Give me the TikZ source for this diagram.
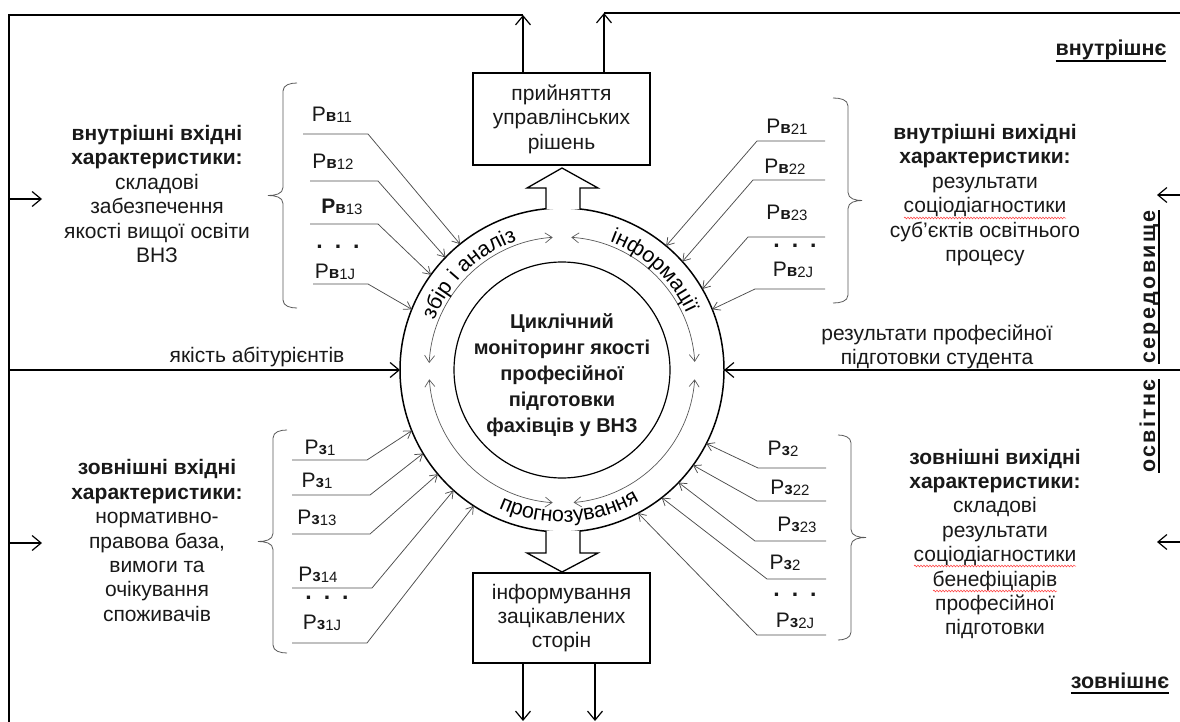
\documentclass[tikz,border=0pt]{standalone}
\usepackage{fontspec}
\setmainfont{Liberation Sans}
\usetikzlibrary{arrows.meta,decorations.text,decorations.pathmorphing,calc}
\newcommand\Plab[3]{{#1Р}{\fontsize{17}{17}\selectfont\bfseries #2}\raisebox{-1.5pt}{\fontsize{15}{15}\selectfont #3}}
\newcommand\Pdots{{\fontsize{23}{23}\selectfont\bfseries .\hspace{12pt}.\hspace{12pt}.}}
\newcommand\arcfont{\fontsize{21.5}{21.5}\selectfont}
\newcommand\bodyfont{\fontsize{21}{24.4}\selectfont}
\begin{document}
\begin{tikzpicture}[x=1pt,y=1pt,
  every node/.style={inner sep=0pt,outer sep=0pt},
  body/.style={font=\bodyfont,align=center,text=black!90},
  plab/.style={font=\fontsize{21}{21}\selectfont,text=black!90},
  vlab/.style={font=\fontsize{21.5}{21.5}\selectfont\bfseries,text=black!90},
  rlab/.style={font=\fontsize{21.5}{21.5}\selectfont\bfseries\addfontfeature{LetterSpace=11},text=black!90},
  frame/.style={line width=1.3pt},
  bigarrow/.style={frame,-{Straight Barb[length=9pt,width=15pt,line width=1.2pt]}},
  pline/.style={line width=0.75pt,black!70,-{Straight Barb[length=7pt,width=9pt,line width=0.75pt]}},
  ring/.style={line width=0.7pt,black!65,{Straight Barb[length=7pt,width=10pt,line width=0.7pt]}-{Straight Barb[length=7pt,width=10pt,line width=0.7pt]}},
  bracestyle/.style={line width=0.8pt,black!65},
  hollow/.style={line width=1.3pt,fill=white},
  wavy/.style={red!80,line width=0.5pt,decorate,decoration={snake,amplitude=0.9pt,segment length=3pt}},
]
\useasboundingbox (0,0) rectangle (1180,-722);

% central circles
\node[circle,draw,line width=1.5pt,minimum size=324pt] (outer) at (562,-370) {};
\node[circle,draw,line width=1.2pt,minimum size=216pt] (inner) at (562,-370) {};
\node[font=\fontsize{20}{26}\selectfont\bfseries,align=center,text=black!90] (ctext) at (562,-375)
  {Циклічний\\моніторинг якості\\професійної\\підготовки\\фахівців у ВНЗ};

% ring arrows
\draw[ring] ($(outer.center)+(94:133)$) arc[start angle=94,end angle=177,radius=133];
\draw[ring] ($(outer.center)+(86:133)$) arc[start angle=86,end angle=3.5,radius=133];
\draw[ring] ($(outer.center)+(184:133)$) arc[start angle=184,end angle=266,radius=133];
\draw[ring] ($(outer.center)+(275:133)$) arc[start angle=275,end angle=356,radius=133];

% ring texts
\path[decorate,decoration={text along path,text align=center,text={|\arcfont|збір і аналіз}}]
  ($(outer.center)+(166:137)$) arc[start angle=166,end angle=102,radius=137];
\path[decorate,decoration={text along path,text align=center,text={|\arcfont|інформації}}]
  ($(outer.center)+(82:137)$) arc[start angle=82,end angle=12,radius=137];
\path[decorate,decoration={text along path,text align=center,text={|\arcfont|прогнозування}}]
  ($(outer.center)+(236:152)$) arc[start angle=236,end angle=310,radius=152];

% boxes
\node[draw,line width=1.3pt,minimum width=177pt,minimum height=92pt,body] (dec) at (561.5,-119)
  {прийняття\\управлінських\\рішень};
\node[draw,line width=1.3pt,minimum width=177pt,minimum height=90pt,body] (inf) at (561.5,-618)
  {інформування\\зацікавлених\\сторін};

% hollow arrows
\draw[hollow] (546,-209) -- (546,-188) -- (527,-188) -- (562,-168) -- (598,-188) -- (580,-188) -- (580,-209);
\draw[hollow] (546,-531) -- (546,-553) -- (527,-553) -- (562,-572) -- (598,-553) -- (580,-553) -- (580,-531);

% frame
\coordinate (tl) at (9,-15);
\coordinate (bl) at (9,-722);
\coordinate (upL) at (523,-15);
\coordinate (upR) at (604,-13);
\coordinate (tr) at (1180,-13);
\coordinate (dnL) at (523,-721);
\coordinate (dnR) at (595,-721);
\draw[frame] (bl) -- (tl) -- (upL);
\draw[frame] (upR) -- (tr);
\draw[bigarrow] (dec.north -| upL) -- (upL);
\draw[bigarrow] (dec.north -| upR) -- (upR);
\draw[bigarrow] (inf.south -| dnL) -- (dnL);
\draw[bigarrow] (inf.south -| dnR) -- (dnR);

% side arrows
\coordinate (a1) at (9,-199); \coordinate (a1e) at (42,-199);
\coordinate (a2) at (9,-543); \coordinate (a2e) at (42,-543);
\coordinate (a3) at (1180,-195); \coordinate (a3e) at (1157,-195);
\coordinate (a4) at (1180,-542); \coordinate (a4e) at (1157,-542);
\draw[bigarrow] (a1) -- (a1e);
\draw[bigarrow] (a2) -- (a2e);
\draw[bigarrow] (a3) -- (a3e);
\draw[bigarrow] (a4) -- (a4e);

% horizontal inputs to circle
\coordinate (inA) at (9,-370);
\coordinate (inB) at (1180,-370);
\draw[bigarrow] (inA) -- (outer.west);
\draw[bigarrow] (inB) -- (outer.east);
\node[body] (abit) at (257,-357) {якість абітурієнтів};
\node[body] (rez) at (937,-347) {результати професійної\\підготовки студента};

% corner labels
\node[vlab,anchor=base] (vn) at (1111,-56) {внутрішнє};
\draw[line width=1.1pt] ([yshift=-5pt]vn.base west) -- ([yshift=-5pt]vn.base east);
\node[vlab,anchor=base] (zn) at (1120,-688) {зовнішнє};
\draw[line width=1.1pt] ([yshift=-5pt]zn.base west) -- ([yshift=-5pt]zn.base east);
\node[rlab,rotate=90,anchor=base] (ser) at (1155,-287) {середовище};
\draw[line width=1.1pt] ([xshift=4pt]ser.base west) -- ([xshift=4pt]ser.base east);
\node[rlab,rotate=90,anchor=base] (osv) at (1155,-426) {освітнє};
\draw[line width=1.1pt] ([xshift=4pt]osv.base west) -- ([xshift=4pt]osv.base east);

% ---------- upper left group
\node[body] (tUL) at (157,-194) {\textbf{внутрішні вхідні}\\\textbf{характеристики:}\\складові\\забезпечення\\якості вищої освіти\\ВНЗ};
\draw[bracestyle] (297,-83) to[out=180,in=90] (283,-91) -- (283,-187.5) to[out=-90,in=0] (268,-195.5)
  to[out=0,in=90] (283,-203.5) -- (283,-300) to[out=-90,in=180] (297,-308);
\node[plab] (pv11) at (332,-115) {\Plab{}{в}{11}};
\node[plab] (pv12) at (333,-162) {\Plab{}{в}{12}};
\node[plab] (pv13) at (342,-207) {\Plab{\bfseries}{в}{13}};
\node[plab] (pv1d) at (338,-247) {\Pdots};
\node[plab] (pv1J) at (335,-272) {\Plab{}{в}{1J}};
\coordinate (s1) at (303,-134); \coordinate (k1) at (368,-134);
\coordinate (s2) at (310,-181); \coordinate (k2) at (378,-181);
\coordinate (s3) at (310,-224); \coordinate (k3) at (378,-224);
\coordinate (s4) at (313,-284); \coordinate (k4) at (368,-284);
\draw[pline] (s1) -- (k1) -- (outer.129);
\draw[pline] (s2) -- (k2) -- (outer.136.5);
\draw[pline] (s3) -- (k3) -- (outer.144.5);
\draw[pline] (s4) -- (k4) -- (outer.158);

% ---------- lower left group
\node[body] (tLL) at (157,-540.5) {\textbf{зовнішні вхідні}\\\textbf{характеристики:}\\нормативно-\\правова база,\\вимоги та\\очікування\\споживачів};
\draw[bracestyle] (287,-430) to[out=180,in=90] (273,-438) -- (273,-533.5) to[out=-90,in=0] (258,-541.5)
  to[out=0,in=90] (273,-549.5) -- (273,-645) to[out=-90,in=180] (287,-653);
\node[plab] (pz11) at (320,-448) {\Plab{}{з}{1}};
\node[plab] (pz12) at (317,-481) {\Plab{}{з}{1}};
\node[plab] (pz13) at (317,-518) {\Plab{}{з}{13}};
\node[plab] (pz14) at (318,-575) {\Plab{}{з}{14}};
\node[plab] (pz1d) at (327,-598) {\Pdots};
\node[plab] (pz1J) at (322,-623) {\Plab{}{з}{1J}};
\coordinate (s5) at (292,-460); \coordinate (k5) at (367,-460);
\coordinate (s6) at (292,-495); \coordinate (k6) at (370,-495);
\coordinate (s7) at (292,-534); \coordinate (k7) at (370,-534);
\coordinate (s8) at (292,-588); \coordinate (k8) at (372,-588);
\coordinate (s9) at (292,-643); \coordinate (k9) at (367,-643);
\draw[pline] (s5) -- (k5) -- (outer.202.5);
\draw[pline] (s6) -- (k6) -- (outer.211);
\draw[pline] (s7) -- (k7) -- (outer.220);
\draw[pline] (s8) -- (k8) -- (outer.228);
\draw[pline] (s9) -- (k9) -- (outer.237);

% ---------- upper right group
\node[body] (tUR) at (985,-195) {\textbf{внутрішні вихідні}\\\textbf{характеристики:}\\результати\\соціодіагностики\\суб'єктів освітнього\\процесу};
\coordinate (w1a) at (904,-218); \coordinate (w1b) at (1066,-218);
\draw[wavy] (w1a) -- (w1b);
\draw[bracestyle] (833,-98) to[out=0,in=90] (848,-106) -- (848,-192.5) to[out=-90,in=180] (862,-200.5)
  to[out=180,in=90] (848,-208.5) -- (848,-295) to[out=-90,in=0] (833,-303);
\node[plab] (pv21) at (787,-127) {\Plab{}{в}{21}};
\node[plab] (pv22) at (785,-167) {\Plab{}{в}{22}};
\node[plab] (pv23) at (787,-213) {\Plab{}{в}{23}};
\node[plab] (pv2d) at (795,-246) {\Pdots};
\node[plab] (pv2J) at (793,-270) {\Plab{}{в}{2J}};
\coordinate (s10) at (825,-141); \coordinate (k10) at (757,-141);
\coordinate (s11) at (825,-180); \coordinate (k11) at (753,-180);
\coordinate (s12) at (825,-237); \coordinate (k12) at (748,-237);
\coordinate (s13) at (825,-289); \coordinate (k13) at (755,-289);
\draw[pline] (s10) -- (k10) -- (outer.50.7);
\draw[pline] (s11) -- (k11) -- (outer.42.2);
\draw[pline] (s12) -- (k12) -- (outer.30);
\draw[pline] (s13) -- (k13) -- (outer.22);

% ---------- lower right group
\node[body] (tLR) at (995,-544) {\textbf{зовнішні вихідні}\\\textbf{характеристики:}\\складові\\результати\\соціодіагностики\\бенефіціарів\\професійної\\підготовки};
\coordinate (w2a) at (914,-566); \coordinate (w2b) at (1076,-566);
\coordinate (w3a) at (933,-591); \coordinate (w3b) at (1057,-591);
\draw[wavy] (w2a) -- (w2b);
\draw[wavy] (w3a) -- (w3b);
\draw[bracestyle] (838,-435) to[out=0,in=90] (851,-443) -- (851,-529.5) to[out=-90,in=180] (866,-537.5)
  to[out=180,in=90] (851,-545.5) -- (851,-632) to[out=-90,in=0] (838,-640);
\node[plab] (pz21) at (783,-449) {\Plab{}{з}{2}};
\node[plab] (pz22) at (790,-488) {\Plab{}{з}{22}};
\node[plab] (pz23) at (797,-525) {\Plab{}{з}{23}};
\node[plab] (pz24) at (785,-563) {\Plab{}{з}{2}};
\node[plab] (pz2d) at (795,-595) {\Pdots};
\node[plab] (pz2J) at (795,-621) {\Plab{}{з}{2J}};
\coordinate (s14) at (826,-468); \coordinate (k14) at (758,-468);
\coordinate (s15) at (826,-501); \coordinate (k15) at (757,-501);
\coordinate (s16) at (826,-541); \coordinate (k16) at (755,-541);
\coordinate (s17) at (826,-579); \coordinate (k17) at (767,-579);
\coordinate (s18) at (826,-635); \coordinate (k18) at (757,-635);
\draw[pline] (s14) -- (k14) -- (outer.333.7);
\draw[pline] (s15) -- (k15) -- (outer.324.8);
\draw[pline] (s16) -- (k16) -- (outer.316.7);
\draw[pline] (s17) -- (k17) -- (outer.308);
\draw[pline] (s18) -- (k18) -- (outer.298.5);
\end{tikzpicture}
\end{document}
